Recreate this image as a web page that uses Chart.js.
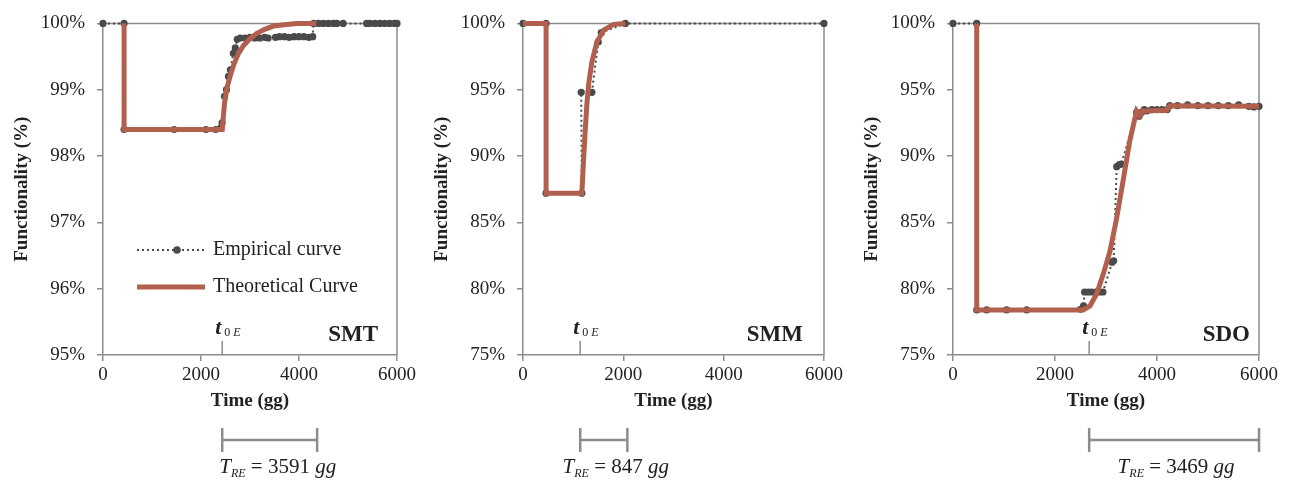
<!DOCTYPE html>
<html>
<head>
<meta charset="utf-8">
<script src="https://cdn.jsdelivr.net/npm/chart.js@4.4.1/dist/chart.umd.min.js"></script>
<style>
  body { margin: 0; background: #fff; width: 1294px; height: 484px; position: relative; overflow: hidden; }
  .panel { position: absolute; top: 0; height: 484px; }
</style>
</head>
<body>
<div class="panel" style="left:0px;width:420px"><canvas id="smt" width="420" height="484"></canvas></div>
<div class="panel" style="left:420px;width:430px"><canvas id="smm" width="430" height="484"></canvas></div>
<div class="panel" style="left:850px;width:444px"><canvas id="sdo" width="444" height="484"></canvas></div>
<script>
// axis ticks
const xTicks = [0, 2000, 4000, 6000];
const smtTicks = [95, 96, 97, 98, 99, 100];
const wideTicks = [75, 80, 85, 90, 95, 100];

// SMT
const smtEmpX = [0, 430, 430, 1450, 2100, 2300, 2400, 2430, 2480, 2520, 2560, 2600, 2660, 2700, 2740, 2800, 2900, 3000, 3100, 3200, 3300, 3370, 3520, 3600, 3700, 3800, 3900, 4000, 4100, 4200, 4280, 4300, 4400, 4500, 4600, 4700, 4770, 4900, 5380, 5450, 5550, 5650, 5750, 5850, 5950, 6000];
const smtEmpY = [100, 100, 98.4, 98.4, 98.4, 98.4, 98.42, 98.5, 98.9, 99.0, 99.2, 99.3, 99.55, 99.63, 99.76, 99.78, 99.78, 99.79, 99.78, 99.78, 99.79, 99.78, 99.79, 99.8, 99.8, 99.79, 99.8, 99.8, 99.8, 99.79, 99.8, 100, 100, 100, 100, 100, 100, 100, 100, 100, 100, 100, 100, 100, 100, 100];
const smtTheoX = [430, 430, 2433, 2480, 2530, 2600, 2670, 2760, 2870, 3000, 3140, 3300, 3480, 3700, 3950, 4350];
const smtTheoY = [100, 98.4, 98.4, 98.8, 99.03, 99.22, 99.38, 99.54, 99.67, 99.77, 99.85, 99.91, 99.96, 99.98, 100, 100];

// SMM
const smmEmpX = [0, 460, 460, 1173, 1160, 1373, 1500, 1560, 2040, 6000];
const smmEmpY = [100, 100, 87.2, 87.2, 94.8, 94.8, 98.6, 99.3, 100, 100];
const smmTheoX = [0, 460, 460, 1173, 1207, 1240, 1273, 1307, 1373, 1473, 1607, 1807, 2040];
const smmTheoY = [100, 100, 87.2, 87.2, 89.7, 91.9, 93.9, 95.4, 97.1, 98.6, 99.5, 99.93, 100];

// SDO
const sdoEmpX = [0, 465, 465, 660, 1050, 1445, 2500, 2560, 2580, 2650, 2720, 2800, 2870, 2940, 3120, 3150, 3210, 3260, 3300, 3600, 3650, 3700, 3750, 3800, 3900, 4000, 4100, 4200, 4250, 4400, 4600, 4800, 5000, 5200, 5400, 5600, 5800, 5900, 6000];
const sdoEmpY = [100, 100, 78.4, 78.4, 78.4, 78.4, 78.45, 78.7, 79.75, 79.75, 79.75, 79.75, 79.75, 79.75, 82.0, 82.1, 89.2, 89.35, 89.4, 93.3, 93.0, 93.3, 93.5, 93.4, 93.5, 93.5, 93.5, 93.5, 93.8, 93.8, 93.85, 93.8, 93.8, 93.8, 93.8, 93.85, 93.75, 93.7, 93.75];
const sdoTheoX = [465, 465, 2553, 2685, 2816, 2946, 3077, 3208, 3338, 3469, 3600, 3665, 3720, 4188, 4253, 6000];
const sdoTheoY = [100, 78.4, 78.4, 78.7, 79.6, 81.1, 82.8, 85.3, 88.2, 91.2, 93.4, 93.05, 93.4, 93.45, 93.8, 93.75];

// recovery marks: start time t0E, bracket ends, T_RE
const t0E = [2433, 1140, 2670];
const bracketEnd = [4370, 2080, 6000];
const treValues = ["3591", "847", "3469"];
const panelNames = ["SMT", "SMM", "SDO"];

const RED = "#b0604c";
const DOT = "#4a4a4a";
const AXIS = "#8c8c8c";
const TXT = "#222";
const SERIF = "'Liberation Serif', 'Times New Roman', serif";

const pts = (xs, ys) => xs.map((x, i) => ({ x: x, y: ys[i] }));

function runs(ctx, parts, x, y, align) {
  let w = 0;
  parts.forEach((p) => {
    ctx.font = p.font;
    w += ctx.measureText(p.t).width;
  });
  let cx = align === "center" ? x - w / 2 : x;
  parts.forEach((p) => {
    ctx.font = p.font;
    ctx.fillText(p.t, cx, y + (p.dy || 0));
    cx += ctx.measureText(p.t).width;
  });
}

const decor = {
  id: "decor",
  beforeDatasetsDraw(chart) {
    const { ctx, chartArea: a } = chart;
    ctx.save();
    ctx.strokeStyle = AXIS;
    ctx.lineWidth = 1.5;
    ctx.beginPath();
    ctx.moveTo(a.left, a.top);
    ctx.lineTo(a.right, a.top);
    ctx.lineTo(a.right, a.bottom);
    ctx.stroke();
    ctx.restore();
  },
  afterDraw(chart, args, o) {
    const { ctx, chartArea: a } = chart;
    const xs = chart.scales.x;
    const i = o.idx;
    const tx = xs.getPixelForValue(t0E[i]);
    ctx.save();
    ctx.strokeStyle = AXIS;
    ctx.lineWidth = 1.5;
    // t0E tick
    ctx.beginPath();
    ctx.moveTo(tx, a.bottom - 14);
    ctx.lineTo(tx, a.bottom);
    ctx.stroke();
    // bracket
    const bx = xs.getPixelForValue(bracketEnd[i]);
    ctx.lineWidth = 2.5;
    ctx.beginPath();
    ctx.moveTo(tx, 428); ctx.lineTo(tx, 452);
    ctx.moveTo(bx, 428); ctx.lineTo(bx, 452);
    ctx.moveTo(tx, 440); ctx.lineTo(bx, 440);
    ctx.stroke();

    ctx.fillStyle = TXT;
    ctx.textBaseline = "alphabetic";
    ctx.textAlign = "left";
    runs(ctx, [
      { t: "t", font: "italic bold 22px " + SERIF },
      { t: " 0", font: "12px " + SERIF, dy: 2 },
      { t: " E", font: "italic 12px " + SERIF, dy: 2 }
    ], tx - 7, 334, "left");

    runs(ctx, [
      { t: "T", font: "italic 21px " + SERIF },
      { t: "RE", font: "italic 12px " + SERIF, dy: 4 },
      { t: " = " + treValues[i] + " ", font: "21px " + SERIF },
      { t: "gg", font: "italic 21px " + SERIF }
    ], (tx + bx) / 2 + o.treShift, 473, "center");

    ctx.font = "bold 23px " + SERIF;
    ctx.textAlign = "right";
    ctx.fillText(panelNames[i], a.right - o.nameGap, 341);

    if (o.legend) {
      const lx = a.left + 34;
      ctx.textAlign = "left";
      ctx.textBaseline = "middle";
      ctx.font = "20px " + SERIF;
      ctx.strokeStyle = DOT;
      ctx.lineWidth = 2;
      ctx.setLineDash([2, 3]);
      ctx.beginPath();
      ctx.moveTo(lx, 250); ctx.lineTo(lx + 68, 250);
      ctx.stroke();
      ctx.setLineDash([]);
      ctx.fillStyle = DOT;
      ctx.beginPath();
      ctx.arc(lx + 40, 250, 3.8, 0, Math.PI * 2);
      ctx.fill();
      ctx.strokeStyle = RED;
      ctx.lineWidth = 5;
      ctx.beginPath();
      ctx.moveTo(lx, 287); ctx.lineTo(lx + 68, 287);
      ctx.stroke();
      ctx.fillStyle = TXT;
      ctx.fillText("Empirical curve", lx + 76, 250);
      ctx.fillText("Theoretical Curve", lx + 76, 287);
    }
    ctx.restore();
  }
};

function makeChart(id, idx, emp, theo, yTicks, padRight, extra) {
  return new Chart(document.getElementById(id), {
    type: "scatter",
    data: {
      datasets: [
        {
          label: "Theoretical Curve",
          data: theo,
          showLine: true,
          borderColor: RED,
          backgroundColor: RED,
          borderWidth: 5,
          pointRadius: 0,
          tension: 0,
          clip: false
        },
        {
          label: "Empirical curve",
          data: emp,
          showLine: true,
          borderColor: DOT,
          backgroundColor: DOT,
          borderWidth: 2,
          borderDash: [2, 3],
          pointRadius: 3.6,
          pointBorderWidth: 0,
          tension: 0,
          clip: false
        }
      ]
    },
    options: {
      responsive: false,
      animation: false,
      layout: { padding: { top: 18, right: padRight, bottom: 72, left: 0 } },
      plugins: {
        legend: { display: false },
        tooltip: { enabled: false },
        decor: Object.assign({ idx: idx }, extra)
      },
      scales: {
        x: {
          type: "linear",
          min: 0,
          max: 6000,
          afterBuildTicks: (s) => { s.ticks = xTicks.map((v) => ({ value: v })); },
          afterFit: (s) => { s.height = 57; },
          grid: { drawOnChartArea: false, color: AXIS, lineWidth: 1.5, tickLength: 6 },
          border: { color: AXIS, width: 1.5 },
          ticks: { color: TXT, font: { family: SERIF, size: 19 }, padding: 3, maxRotation: 0, callback: (v) => String(v) },
          title: { display: true, text: "Time (gg)", color: TXT, font: { family: SERIF, size: 19, weight: "bold" }, padding: { top: 0, bottom: 0 } }
        },
        y: {
          min: yTicks[0],
          max: yTicks[yTicks.length - 1],
          afterBuildTicks: (s) => { s.ticks = yTicks.map((v) => ({ value: v })); },
          afterFit: (s) => { s.width = 103; },
          grid: { drawOnChartArea: false, color: AXIS, lineWidth: 1.5, tickLength: 6 },
          border: { color: AXIS, width: 1.5 },
          ticks: { color: TXT, font: { family: SERIF, size: 19 }, padding: 12, callback: (v) => v + "%" },
          title: { display: true, text: "Functionality (%)", color: TXT, font: { family: SERIF, size: 19, weight: "bold" }, padding: { top: 11, bottom: 0 } }
        }
      }
    },
    plugins: [decor]
  });
}

makeChart("smt", 0, pts(smtEmpX, smtEmpY), pts(smtTheoX, smtTheoY), smtTicks, 23, { legend: true, nameGap: 19, treShift: 8 });
makeChart("smm", 1, pts(smmEmpX, smmEmpY), pts(smmTheoX, smmTheoY), wideTicks, 26, { legend: false, nameGap: 21, treShift: 12 });
makeChart("sdo", 2, pts(sdoEmpX, sdoEmpY), pts(sdoTheoX, sdoTheoY), wideTicks, 35, { legend: false, nameGap: 9, treShift: 2 });
</script>
</body>
</html>
